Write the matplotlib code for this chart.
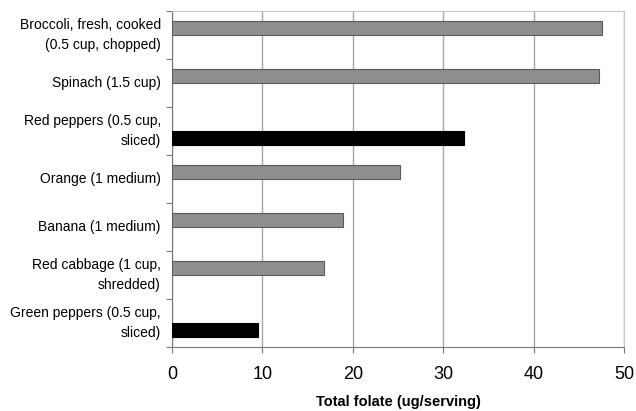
import numpy as np
import matplotlib.pyplot as plt

plt.rcParams['font.family'] = ['Liberation Sans', 'DejaVu Sans']

# Data
foods = [
    'Broccoli, fresh, cooked\n(0.5 cup, chopped)',
    'Spinach (1.5 cup)',
    'Red peppers (0.5 cup,\nsliced)',
    'Orange (1 medium)',
    'Banana (1 medium)',
    'Red cabbage (1 cup,\nshredded)',
    'Green peppers (0.5 cup,\nsliced)',
]
gray_idx = [0, 1, 3, 4, 5]
gray_vals = [47.6, 47.2, 25.2, 18.9, 16.8]
black_idx = [2, 6]
black_vals = [32.3, 9.5]

fig = plt.figure(figsize=(6.36, 4.11), dpi=100)
ax = fig.add_axes([0.2704, 0.1557, 0.7106, 0.8170])

off = 0.146
h = 0.29
ax.barh(np.array(gray_idx) - off, gray_vals, height=h, color='#8e8e8e',
        edgecolor='#5a5a5a', linewidth=0.8, zorder=3)
ax.barh(np.array(black_idx) + off, black_vals, height=h, color='black',
        edgecolor='black', linewidth=0.8, zorder=3)

ax.set_xlim(0, 50)
ax.set_ylim(len(foods) - 0.5, -0.5)
ax.set_xticks(np.arange(0, 51, 10))
ax.tick_params(axis='x', labelsize=13, length=4, color='#777777', pad=10)

# category separators as major ticks, labels on minor ticks
ax.set_yticks(np.arange(-0.5, len(foods), 1.0))
ax.set_yticklabels([])
ax.tick_params(axis='y', which='major', length=4, color='#777777')
ax.set_yticks(np.arange(len(foods)), minor=True)
ax.set_yticklabels(foods, minor=True, fontsize=10, linespacing=1.5)
ax.tick_params(axis='y', which='minor', length=0, pad=8)
for lbl in ax.get_yticklabels(minor=True):
    lbl.set_verticalalignment('center')

ax.grid(axis='x', color='#a8a8a8', linewidth=1, zorder=0)
for s in ['top', 'right']:
    ax.spines[s].set_color('#c8c8c8')
for s in ['left', 'bottom']:
    ax.spines[s].set_color('#777777')

ax.set_xlabel('Total folate (ug/serving)', fontsize=10.5, fontweight='bold', labelpad=8)

fig.savefig('out.png', dpi=100)
